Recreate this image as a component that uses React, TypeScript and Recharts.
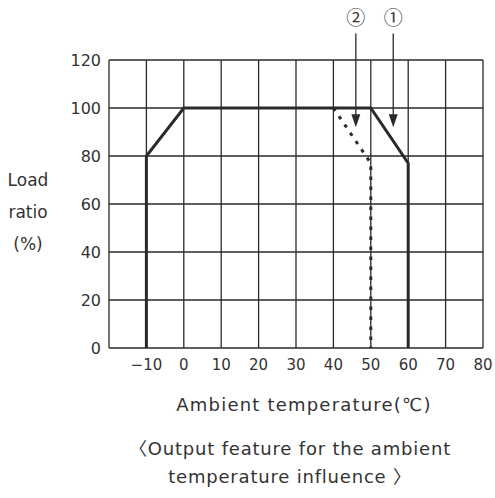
import { LineChart, Line, XAxis, YAxis, CartesianGrid, ReferenceLine, ReferenceDot } from 'recharts';

const tempTicks = [-20, -10, 0, 10, 20, 30, 40, 50, 60, 70, 80];
const loadTicks = [0, 20, 40, 60, 80, 100, 120];

// curve 1 (solid) and curve 2 (dotted)
const curve1 = [
  { t: -10, load: 0 },
  { t: -10, load: 80 },
  { t: 0, load: 100 },
  { t: 50, load: 100 },
  { t: 60, load: 77 },
  { t: 60, load: 0 },
];
const curve2 = [
  { t: 40, load: 100 },
  { t: 50, load: 77 },
  { t: 50, load: 0 },
];

// arrows pointing at each curve
const arrowTips = [
  { t: 46, load: 92, name: '②' },
  { t: 56, load: 92, name: '①' },
];
const arrowTopLoad = 131;
const markerLoad = 138;

const ink = '#2a2a2a';
const textCol = '#333';
const font = '"DejaVu Sans", "Noto Sans CJK KR", sans-serif';

const fmtTemp = (v: number) => (v === -20 ? '' : v < 0 ? '\u2212' + Math.abs(v) : String(v));

const ArrowHead = (props: any) => {
  const { cx, cy } = props;
  return <path d={`M${cx - 4.5},${cy - 13} L${cx + 4.5},${cy - 13} L${cx},${cy} Z`} fill={ink} />;
};

const makeMarker = (name: string) => (props: any) => {
  const { cx, cy } = props;
  return (
    <text x={cx} y={cy} textAnchor="middle" dominantBaseline="central" fontSize={19} fill={textCol} fontFamily='"Noto Sans CJK KR", sans-serif'>
      {name}
    </text>
  );
};

export default function App() {
  return (
    <div style={{ position: 'absolute', left: 0, top: 0, width: 495, height: 498, background: '#fff', fontFamily: font, color: textCol }}>
      <LineChart width={495} height={498} margin={{ top: 60, right: 12, left: 0, bottom: 120 }}>
        <CartesianGrid stroke={ink} strokeWidth={1.3} />
        <XAxis
          dataKey="t"
          type="number"
          domain={[-20, 80]}
          ticks={tempTicks}
          tickFormatter={fmtTemp}
          axisLine={false}
          tickLine={false}
          tickMargin={5}
          height={30}
          tick={{ fontSize: 15, fill: textCol, fontFamily: font }}
        />
        <YAxis
          dataKey="load"
          type="number"
          domain={[0, 120]}
          ticks={loadTicks}
          axisLine={false}
          tickLine={false}
          width={109}
          tick={{ fontSize: 16, fill: textCol, fontFamily: font }}
        />
        <Line data={curve1} dataKey="load" type="linear" stroke={ink} strokeWidth={3} dot={false} isAnimationActive={false} strokeLinejoin="miter" />
        <Line data={curve2} dataKey="load" type="linear" stroke={ink} strokeWidth={3} strokeDasharray="3.5 6.5" dot={false} isAnimationActive={false} />
        {arrowTips.map((a) => (
          <ReferenceLine
            key={'l' + a.name}
            segment={[{ x: a.t, y: arrowTopLoad }, { x: a.t, y: a.load + 4 }]}
            stroke={ink}
            strokeWidth={1.3}
            ifOverflow="visible"
          />
        ))}
        {arrowTips.map((a) => (
          <ReferenceDot key={'h' + a.name} x={a.t} y={a.load} ifOverflow="visible" shape={ArrowHead} />
        ))}
        {arrowTips.map((a) => (
          <ReferenceDot key={'m' + a.name} x={a.t} y={markerLoad} ifOverflow="visible" shape={makeMarker(a.name)} />
        ))}
      </LineChart>
      <div style={{ position: 'absolute', left: 0, width: 56, top: 164, textAlign: 'center', fontSize: 17, lineHeight: '32px' }}>
        Load<br />ratio<br />(%)
      </div>
      <div style={{ position: 'absolute', left: 104, width: 400, top: 394, textAlign: 'center', fontSize: 18, letterSpacing: 1.2 }}>
        Ambient temperature(℃)
      </div>
      <div style={{ position: 'absolute', left: 90, width: 400, top: 435, textAlign: 'center', fontSize: 18, lineHeight: '28px', letterSpacing: 0.8 }}>
        〈Output feature for the ambient<br />temperature influence 〉
      </div>
    </div>
  );
}
